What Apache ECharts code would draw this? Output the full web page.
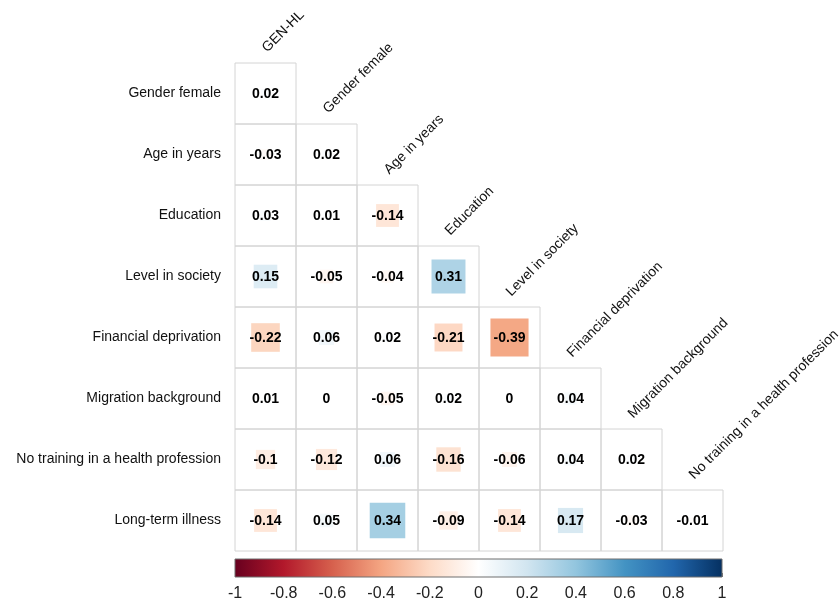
<!DOCTYPE html>
<html>
<head>
<meta charset="utf-8">
<script src="https://cdn.jsdelivr.net/npm/echarts@6/dist/echarts.min.js"></script>
<style>
  html, body { margin: 0; padding: 0; background: #fff; }
  #chart { width: 840px; height: 604px; }
</style>
</head>
<body>
<div id="chart"></div>
<script>
// Variables along the columns (left to right) and rows (top to bottom)
const columns = ['GEN-HL', 'Gender female', 'Age in years', 'Education', 'Level in society',
  'Financial deprivation', 'Migration background', 'No training in a health profession'];
const rows = ['Gender female', 'Age in years', 'Education', 'Level in society',
  'Financial deprivation', 'Migration background', 'No training in a health profession', 'Long-term illness'];

// Lower-triangle correlation coefficients, one list per row
const rGenderFemale = [0.02];
const rAge = [-0.03, 0.02];
const rEducation = [0.03, 0.01, -0.14];
const rLevel = [0.15, -0.05, -0.04, 0.31];
const rFinancial = [-0.22, 0.06, 0.02, -0.21, -0.39];
const rMigration = [0.01, 0, -0.05, 0.02, 0, 0.04];
const rNoTraining = [-0.1, -0.12, 0.06, -0.16, -0.06, 0.04, 0.02];
const rIllness = [-0.14, 0.05, 0.34, -0.09, -0.14, 0.17, -0.03, -0.01];
const corrRows = [rGenderFemale, rAge, rEducation, rLevel, rFinancial, rMigration, rNoTraining, rIllness];

// Diverging red-white-blue palette from -1 to 1
const palette = ['#67001F', '#B2182B', '#D6604D', '#F4A582', '#FDDBC7', '#FFFFFF',
  '#D1E5F0', '#92C5DE', '#4393C3', '#2166AC', '#053061'];
const scaleRange = [-1, 1];

const cellData = [];
corrRows.forEach((vals, i) => vals.forEach((v, j) => cellData.push([j, i, v])));
const headerData = columns.map((c, j) => [j, j]);

const FONT = '"Liberation Sans", Arial, sans-serif';

const chart = echarts.init(document.getElementById('chart'), null, { renderer: 'canvas' });

chart.setOption({
  backgroundColor: '#ffffff',
  animation: false,
  grid: [
    { left: 235, top: 63, width: 488, height: 488 },
    { left: 235, top: 559, width: 487, height: 18 }
  ],
  xAxis: [
    { type: 'category', gridIndex: 0, data: columns, show: false },
    {
      type: 'value', gridIndex: 1, min: scaleRange[0], max: scaleRange[1], interval: 0.2,
      axisLine: { show: false },
      axisTick: { show: true, inside: true, length: 4, lineStyle: { color: '#777', width: 1 } },
      splitLine: { show: false },
      axisLabel: { fontSize: 16, color: '#222', fontFamily: FONT, margin: 9 }
    }
  ],
  yAxis: [
    {
      type: 'category', gridIndex: 0, data: rows, inverse: true,
      axisLine: { show: false }, axisTick: { show: false }, splitLine: { show: false },
      axisLabel: { fontSize: 14, color: '#111', fontFamily: FONT, margin: 14 }
    },
    { type: 'value', gridIndex: 1, min: 0, max: 1, show: false }
  ],
  visualMap: {
    type: 'continuous', show: false, min: scaleRange[0], max: scaleRange[1],
    dimension: 2, seriesIndex: 0, inRange: { color: palette }
  },
  series: [
    {
      // Cells: border, square sized by |r|, and the coefficient
      type: 'custom',
      xAxisIndex: 0, yAxisIndex: 0,
      data: cellData,
      renderItem: function (params, api) {
        const c = api.coord([api.value(0), api.value(1)]);
        const sz = api.size([1, 1]);
        const v = api.value(2);
        const side = Math.sqrt(Math.abs(v)) * sz[0];
        return {
          type: 'group',
          children: [
            {
              type: 'rect',
              shape: { x: c[0] - sz[0] / 2, y: c[1] - sz[1] / 2, width: sz[0], height: sz[1] },
              style: { fill: null, stroke: '#d4d4d4', lineWidth: 1 }
            },
            {
              type: 'rect',
              shape: { x: c[0] - side / 2, y: c[1] - side / 2, width: side, height: side },
              style: { fill: api.visual('color') }
            },
            {
              type: 'text',
              x: c[0], y: c[1] + 1,
              style: {
                text: String(v), align: 'center', verticalAlign: 'middle',
                font: 'bold 14px ' + FONT, fill: '#000'
              }
            }
          ]
        };
      }
    },
    {
      // Diagonal column headers above each column's top cell
      type: 'custom',
      xAxisIndex: 0, yAxisIndex: 0,
      data: headerData,
      silent: true,
      renderItem: function (params, api) {
        const j = api.value(0);
        const c = api.coord([j, api.value(1)]);
        const sz = api.size([1, 1]);
        return {
          type: 'text',
          x: c[0] + 4, y: c[1] - sz[1] / 2 - 8,
          rotation: Math.PI / 4,
          style: {
            text: columns[j], align: 'left', verticalAlign: 'bottom',
            font: '14px ' + FONT, fill: '#111'
          }
        };
      }
    },
    {
      // Colour scale bar
      type: 'custom',
      xAxisIndex: 1, yAxisIndex: 1,
      data: [[scaleRange[0], scaleRange[1]]],
      silent: true,
      z: 1,
      renderItem: function (params, api) {
        const p0 = api.coord([api.value(0), 1]);
        const p1 = api.coord([api.value(1), 0]);
        return {
          type: 'rect',
          shape: { x: p0[0], y: p0[1], width: p1[0] - p0[0], height: p1[1] - p0[1] },
          style: {
            fill: {
              type: 'linear', x: 0, y: 0, x2: 1, y2: 0,
              colorStops: palette.map((col, k) => ({ offset: k / (palette.length - 1), color: col }))
            },
            stroke: '#6e6e6e', lineWidth: 1
          }
        };
      }
    }
  ]
});
</script>
</body>
</html>
